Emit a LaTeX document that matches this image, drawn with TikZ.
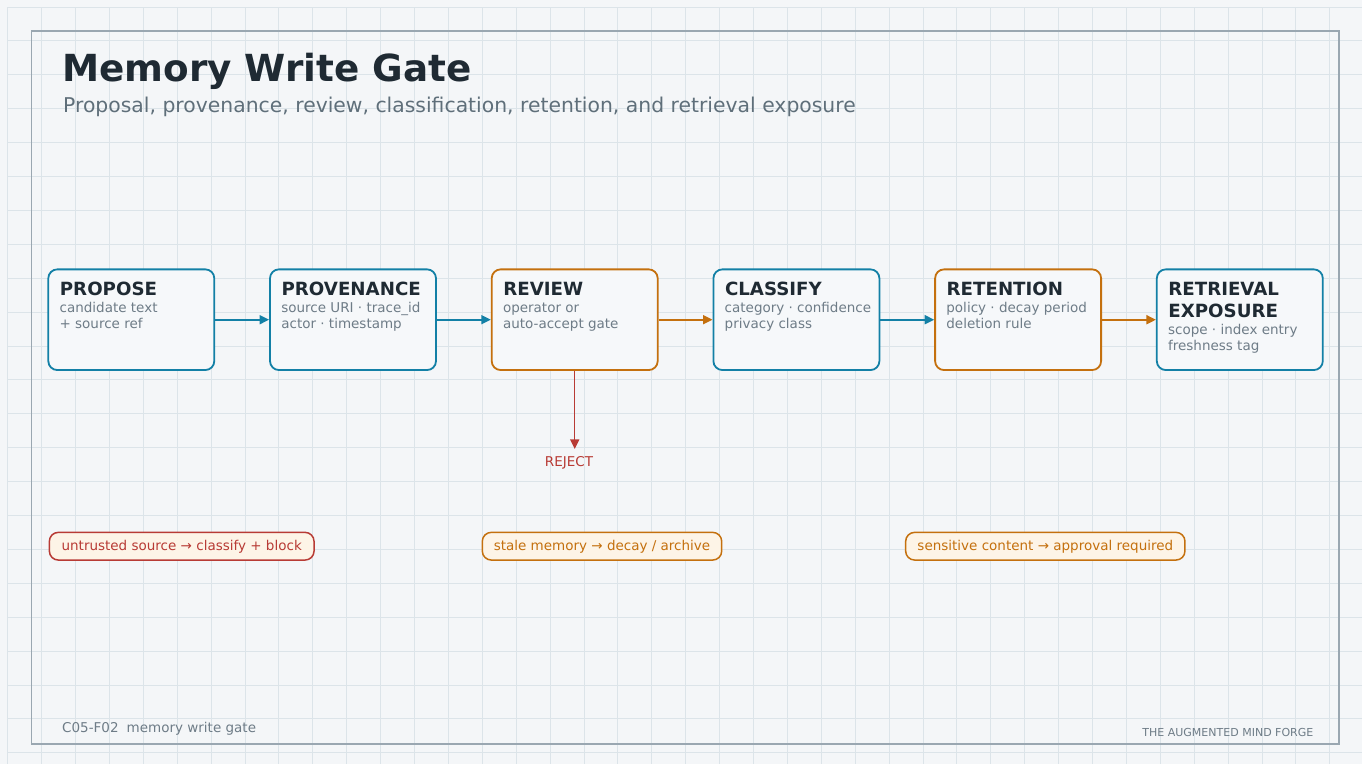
\documentclass[tikz,border=0pt]{standalone}
\usepackage{fontspec}
\setmainfont{DejaVu Sans}
\usetikzlibrary{arrows.meta,calc}

\definecolor{bg}{HTML}{F4F6F8}
\definecolor{gridc}{HTML}{DCE4E9}
\definecolor{framec}{HTML}{9AA7B1}
\definecolor{ink}{HTML}{1F2A33}
\definecolor{muted}{HTML}{5F6F7A}
\definecolor{soft}{HTML}{6E7C87}
\definecolor{teal}{HTML}{1380A6}
\definecolor{amber}{HTML}{C4700E}
\definecolor{brick}{HTML}{B83B35}
\definecolor{cream}{HTML}{FDF4E7}
\definecolor{boxfill}{HTML}{F6F8FA}

\tikzset{
  stage/.style={draw, line width=1.8pt, rounded corners=9pt, fill=boxfill,
    minimum width=166pt, minimum height=100.7pt, inner sep=0pt},
  ttl/.style={anchor=base west, inner sep=0pt, text=ink,
    font=\fontsize{18.2}{22}\selectfont\bfseries},
  sub/.style={anchor=base west, inner sep=0pt, text=soft,
    font=\fontsize{13.5}{16}\selectfont},
  flow/.style={line width=1.8pt, -{Triangle[length=9.5pt,width=9pt]}},
  pill/.style={draw, line width=1.5pt, rounded corners=9pt, fill=cream,
    minimum height=27.7pt, inner sep=0pt, text height=10pt, text depth=1pt,
    font=\fontsize{13.5}{16}\selectfont},
}

\begin{document}
\begin{tikzpicture}[x=1pt,y=-1pt]
\useasboundingbox (0,0) rectangle (1362,764);
\fill[bg] (0,0) rectangle (1362,764);

% background grid
\foreach \i in {0,...,39}
  \draw[gridc, line width=0.9pt] ({7.7+33.9*\i},7) -- ({7.7+33.9*\i},764);
\foreach \j in {0,...,22}
  \draw[gridc, line width=0.9pt] (7.7,{7+33.9*\j}) -- (1362,{7+33.9*\j});

% frame
\draw[framec, line width=1.5pt] (31.5,31) rectangle (1339,744);

% heading
\node[anchor=base west, inner sep=0pt, text=ink,
  font=\fontsize{37.3}{40}\selectfont\bfseries] (title) at (62,81.8) {Memory Write Gate};
\node[anchor=base west, inner sep=0pt, text=muted,
  font=\fontsize{20.35}{24}\selectfont] (subtitle) at (63,112.3)
  {Proposal, provenance, review, classification, retention, and retrieval exposure};

% pipeline stages
\node[stage, draw=teal]  (propose)    at (131.3,319.7) {};
\node[stage, draw=teal]  (provenance) at (353.0,319.7) {};
\node[stage, draw=amber] (review)     at (574.7,319.7) {};
\node[stage, draw=teal]  (classify)   at (796.4,319.7) {};
\node[stage, draw=amber] (retention)  at (1018.1,319.7) {};
\node[stage, draw=teal]  (exposure)   at (1239.8,319.7) {};

\node[ttl] (propose-t) at ($(propose.north west)+(12.3,26.8)$) {PROPOSE};
\node[sub] (propose-a) at ($(propose.north west)+(12,43.6)$) {candidate text};
\node[sub] (propose-b) at ($(propose.north west)+(12,60.3)$) {+ source ref};

\node[ttl] (provenance-t) at ($(provenance.north west)+(12.3,26.8)$) {PROVENANCE};
\node[sub] (provenance-a) at ($(provenance.north west)+(12,43.6)$) {source URI · trace\_id};
\node[sub] (provenance-b) at ($(provenance.north west)+(12,60.3)$) {actor · timestamp};

\node[ttl] (review-t) at ($(review.north west)+(12.3,26.8)$) {REVIEW};
\node[sub] (review-a) at ($(review.north west)+(12,43.6)$) {operator or};
\node[sub] (review-b) at ($(review.north west)+(12,60.3)$) {auto-accept gate};

\node[ttl] (classify-t) at ($(classify.north west)+(12.3,26.8)$) {CLASSIFY};
\node[sub] (classify-a) at ($(classify.north west)+(12,43.6)$) {category · confidence};
\node[sub] (classify-b) at ($(classify.north west)+(12,60.3)$) {privacy class};

\node[ttl] (retention-t) at ($(retention.north west)+(12.3,26.8)$) {RETENTION};
\node[sub] (retention-a) at ($(retention.north west)+(12,43.6)$) {policy · decay period};
\node[sub] (retention-b) at ($(retention.north west)+(12,60.3)$) {deletion rule};

\node[ttl] (exposure-t) at ($(exposure.north west)+(12.3,26.8)$) {RETRIEVAL};
\node[ttl] (exposure-u) at ($(exposure.north west)+(12.3,48.6)$) {EXPOSURE};
\node[sub] (exposure-a) at ($(exposure.north west)+(12,65.8)$) {scope · index entry};
\node[sub] (exposure-b) at ($(exposure.north west)+(12,82.5)$) {freshness tag};

% connectors
\draw[flow, teal]  (propose.east)    -- (provenance.west);
\draw[flow, teal]  (provenance.east) -- (review.west);
\draw[flow, amber] (review.east)     -- (classify.west);
\draw[flow, teal]  (classify.east)   -- (retention.west);
\draw[flow, amber] (retention.east)  -- (exposure.west);

% rejection branch
\coordinate (rejtip) at ($(review.south)+(0,78)$);
\draw[flow, brick, line width=1.5pt] (review.south) -- (rejtip);
\node[anchor=base, inner sep=0pt, text=brick, font=\fontsize{13.5}{16}\selectfont]
  (reject) at (569,466.3) {REJECT};

% guard notes
\node[pill, draw=brick, text=brick, minimum width=264.7pt] (note1) at (181.7,546.2)
  {untrusted source → classify + block};
\node[pill, draw=amber, text=amber, minimum width=239.4pt] (note2) at (602,546.2)
  {stale memory → decay / archive};
\node[pill, draw=amber, text=amber, minimum width=279.3pt] (note3) at (1045.3,546.2)
  {sensitive content → approval required};

% footer
\node[anchor=base west, inner sep=0pt, text=soft, font=\fontsize{13.5}{16}\selectfont]
  (figid) at (62,732.6) {C05-F02\hspace{0.6em}memory write gate};
\node[anchor=base east, inner sep=0pt, text=soft, font=\fontsize{11}{13}\selectfont]
  (brand) at (1313.5,736) {THE AUGMENTED MIND FORGE};
\end{tikzpicture}
\end{document}
